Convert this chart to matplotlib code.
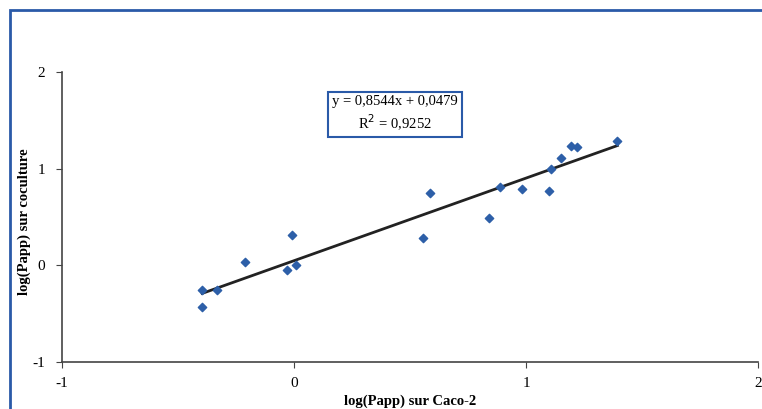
import matplotlib.pyplot as plt
from matplotlib.patches import Rectangle

# Donnees
caco2 = [-0.396, -0.331, -0.396, -0.212, -0.007, -0.032, 0.007, 0.586, 0.555,
         0.84, 0.889, 0.982, 1.10, 1.109, 1.152, 1.195, 1.22, 1.394]
coculture = [-0.25, -0.25, -0.43, 0.03, 0.31, -0.05, 0.0, 0.745, 0.285,
             0.485, 0.815, 0.785, 0.77, 1.0, 1.11, 1.23, 1.225, 1.29]
pente = 0.8544
ordonnee = 0.0479
r2 = 0.9252

plt.rcParams['font.family'] = ['Liberation Serif', 'DejaVu Serif']
plt.rcParams['axes.unicode_minus'] = False

W, H = 762, 409
fig = plt.figure(figsize=(W / 100, H / 100), dpi=100)
ax = fig.add_axes([62 / W, 1 - 362 / H, (758 - 62) / W, (362 - 72) / H])

# cadre bleu
fig.patches.append(Rectangle((10 / W, -0.05), 1.2, (H - 10) / H + 0.05,
                             transform=fig.transFigure, fill=False,
                             edgecolor='#2a5aa8', lw=2))

ax.scatter(caco2, coculture, marker='D', s=18, color='#2d5fa8', zorder=3)

xmin, xmax = min(caco2), max(caco2)
ax.plot([xmin, xmax], [pente * xmin + ordonnee, pente * xmax + ordonnee],
        color='#222222', lw=2, zorder=2)

ax.set_xlim(-1, 2)
ax.set_ylim(-1, 2)
ax.set_xticks([-1, 0, 1, 2])
ax.set_yticks([-1, 0, 1, 2])
for s in ['top', 'right']:
    ax.spines[s].set_visible(False)
for s in ['left', 'bottom']:
    ax.spines[s].set_color('#444444')
    ax.spines[s].set_linewidth(1.2)
ax.tick_params(direction='out', length=4, color='#444444', labelsize=11)
ax.tick_params(axis='x', pad=7)
ax.tick_params(axis='y', pad=8)

fig.text(410 / W, 1 - 401 / H, 'log(Papp) sur Caco-2', ha='center', va='center',
         fontsize=10.5, fontweight='bold')
fig.text(24 / W, 1 - 222 / H, 'log(Papp) sur coculture', ha='center', va='center',
         rotation=90, fontsize=10.5, fontweight='bold')

eq = 'y = ' + f'{pente:.4f}'.replace('.', ',') + 'x + ' + f'{ordonnee:.4f}'.replace('.', ',')
r2txt = 'R$^2$ = ' + f'{r2:.4f}'.replace('.', ',')
ax.text(0.435, 1.567, eq + '\n' + r2txt, ha='center', va='center', fontsize=10.5,
        multialignment='center', linespacing=1.25,
        bbox=dict(boxstyle='square,pad=0.3', fc='white', ec='#2a5aa8', lw=1.5))

fig.savefig('out.png', dpi=100)
